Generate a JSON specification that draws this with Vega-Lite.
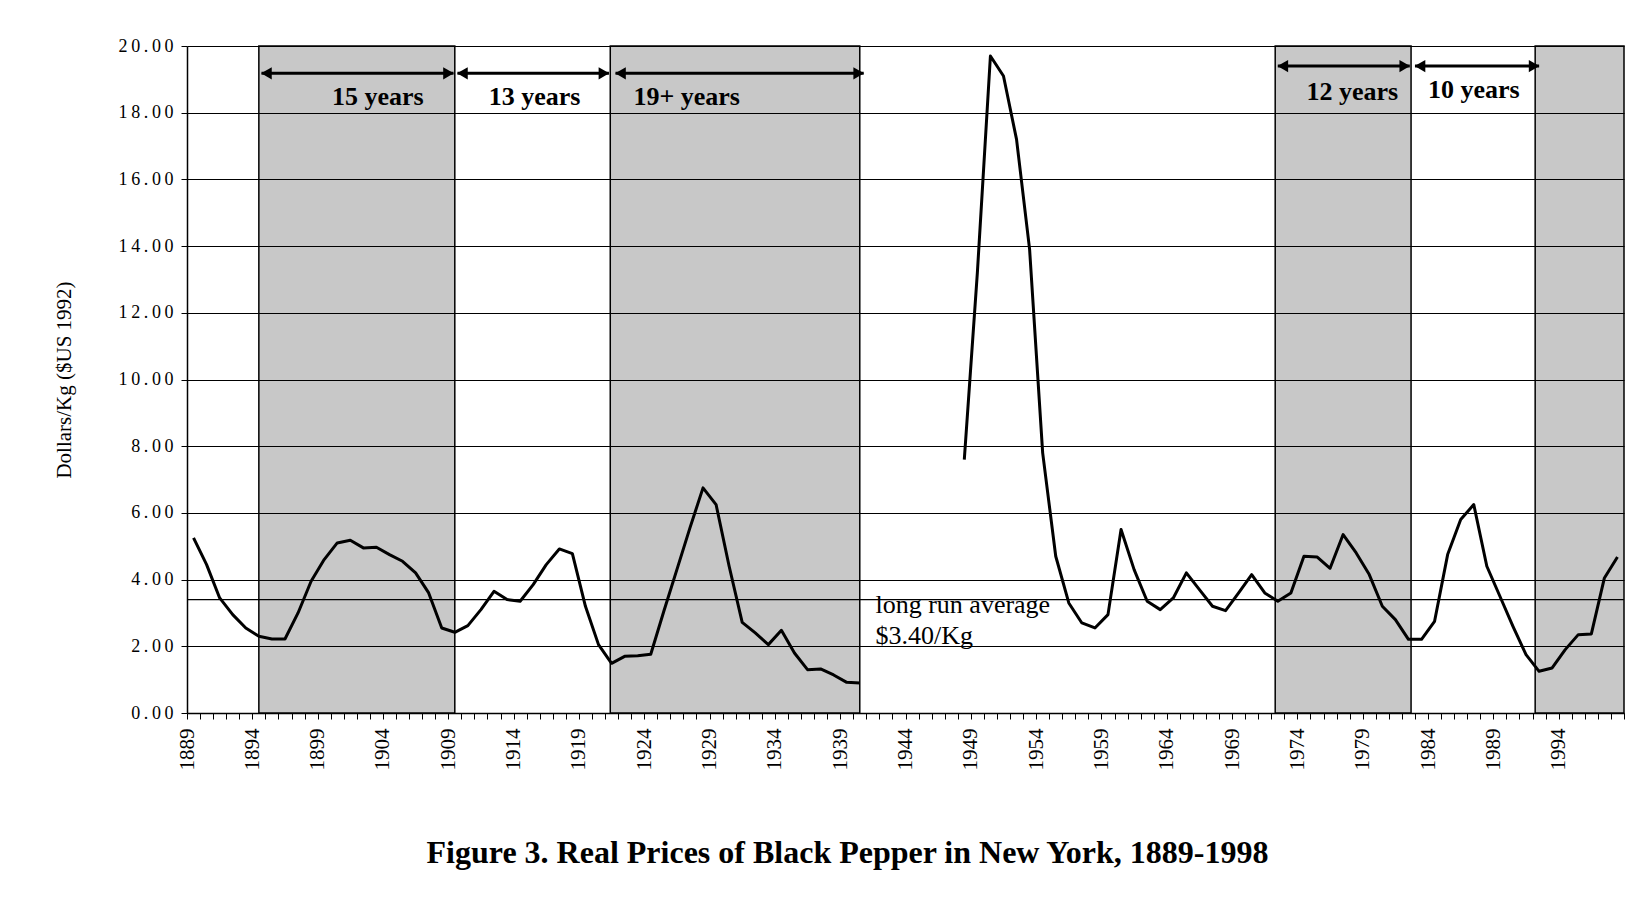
{
  "$schema": "https://vega.github.io/schema/vega-lite/v6.json",
  "width": 1437,
  "height": 667,
  "autosize": "none",
  "padding": {"left": 187, "top": 46, "right": 17, "bottom": 193},
  "background": "white",
  "config": {"view": {"stroke": null}, "font": "Liberation Serif"},
  "title": {
    "text": "Figure 3. Real Prices of Black Pepper in New York, 1889-1998",
    "orient": "bottom", "anchor": "middle", "frame": "group",
    "font": "Liberation Serif", "fontSize": 32, "fontWeight": "bold", "color": "black",
    "offset": 68, "dx": -58
  },
  "datasets": {
    "prices": [
      {"year": 1889, "price": 5.25, "seg": "a"}, {"year": 1890, "price": 4.45, "seg": "a"},
      {"year": 1891, "price": 3.45, "seg": "a"}, {"year": 1892, "price": 2.95, "seg": "a"},
      {"year": 1893, "price": 2.55, "seg": "a"}, {"year": 1894, "price": 2.3, "seg": "a"},
      {"year": 1895, "price": 2.22, "seg": "a"}, {"year": 1896, "price": 2.22, "seg": "a"},
      {"year": 1897, "price": 3.0, "seg": "a"}, {"year": 1898, "price": 3.95, "seg": "a"},
      {"year": 1899, "price": 4.6, "seg": "a"}, {"year": 1900, "price": 5.1, "seg": "a"},
      {"year": 1901, "price": 5.18, "seg": "a"}, {"year": 1902, "price": 4.95, "seg": "a"},
      {"year": 1903, "price": 4.97, "seg": "a"}, {"year": 1904, "price": 4.75, "seg": "a"},
      {"year": 1905, "price": 4.55, "seg": "a"}, {"year": 1906, "price": 4.2, "seg": "a"},
      {"year": 1907, "price": 3.6, "seg": "a"}, {"year": 1908, "price": 2.55, "seg": "a"},
      {"year": 1909, "price": 2.42, "seg": "a"}, {"year": 1910, "price": 2.62, "seg": "a"},
      {"year": 1911, "price": 3.1, "seg": "a"}, {"year": 1912, "price": 3.65, "seg": "a"},
      {"year": 1913, "price": 3.4, "seg": "a"}, {"year": 1914, "price": 3.35, "seg": "a"},
      {"year": 1915, "price": 3.85, "seg": "a"}, {"year": 1916, "price": 4.45, "seg": "a"},
      {"year": 1917, "price": 4.92, "seg": "a"}, {"year": 1918, "price": 4.78, "seg": "a"},
      {"year": 1919, "price": 3.2, "seg": "a"}, {"year": 1920, "price": 2.05, "seg": "a"},
      {"year": 1921, "price": 1.49, "seg": "a"}, {"year": 1922, "price": 1.7, "seg": "a"},
      {"year": 1923, "price": 1.72, "seg": "a"}, {"year": 1924, "price": 1.76, "seg": "a"},
      {"year": 1925, "price": 3.05, "seg": "a"}, {"year": 1926, "price": 4.3, "seg": "a"},
      {"year": 1927, "price": 5.55, "seg": "a"}, {"year": 1928, "price": 6.75, "seg": "a"},
      {"year": 1929, "price": 6.25, "seg": "a"}, {"year": 1930, "price": 4.4, "seg": "a"},
      {"year": 1931, "price": 2.72, "seg": "a"}, {"year": 1932, "price": 2.4, "seg": "a"},
      {"year": 1933, "price": 2.05, "seg": "a"}, {"year": 1934, "price": 2.48, "seg": "a"},
      {"year": 1935, "price": 1.8, "seg": "a"}, {"year": 1936, "price": 1.3, "seg": "a"},
      {"year": 1937, "price": 1.32, "seg": "a"}, {"year": 1938, "price": 1.14, "seg": "a"},
      {"year": 1939, "price": 0.92, "seg": "a"}, {"year": 1940, "price": 0.9, "seg": "a"},
      {"year": 1948, "price": 7.6, "seg": "b"}, {"year": 1949, "price": 13.2, "seg": "b"},
      {"year": 1950, "price": 19.7, "seg": "b"}, {"year": 1951, "price": 19.1, "seg": "b"},
      {"year": 1952, "price": 17.2, "seg": "b"}, {"year": 1953, "price": 13.9, "seg": "b"},
      {"year": 1954, "price": 7.8, "seg": "b"}, {"year": 1955, "price": 4.7, "seg": "b"},
      {"year": 1956, "price": 3.3, "seg": "b"}, {"year": 1957, "price": 2.7, "seg": "b"},
      {"year": 1958, "price": 2.55, "seg": "b"}, {"year": 1959, "price": 2.95, "seg": "b"},
      {"year": 1960, "price": 5.5, "seg": "b"}, {"year": 1961, "price": 4.3, "seg": "b"},
      {"year": 1962, "price": 3.35, "seg": "b"}, {"year": 1963, "price": 3.1, "seg": "b"},
      {"year": 1964, "price": 3.45, "seg": "b"}, {"year": 1965, "price": 4.2, "seg": "b"},
      {"year": 1966, "price": 3.7, "seg": "b"}, {"year": 1967, "price": 3.2, "seg": "b"},
      {"year": 1968, "price": 3.07, "seg": "b"}, {"year": 1969, "price": 3.6, "seg": "b"},
      {"year": 1970, "price": 4.15, "seg": "b"}, {"year": 1971, "price": 3.6, "seg": "b"},
      {"year": 1972, "price": 3.35, "seg": "b"}, {"year": 1973, "price": 3.6, "seg": "b"},
      {"year": 1974, "price": 4.7, "seg": "b"}, {"year": 1975, "price": 4.68, "seg": "b"},
      {"year": 1976, "price": 4.34, "seg": "b"}, {"year": 1977, "price": 5.35, "seg": "b"},
      {"year": 1978, "price": 4.8, "seg": "b"}, {"year": 1979, "price": 4.15, "seg": "b"},
      {"year": 1980, "price": 3.2, "seg": "b"}, {"year": 1981, "price": 2.8, "seg": "b"},
      {"year": 1982, "price": 2.21, "seg": "b"}, {"year": 1983, "price": 2.21, "seg": "b"},
      {"year": 1984, "price": 2.75, "seg": "b"}, {"year": 1985, "price": 4.75, "seg": "b"},
      {"year": 1986, "price": 5.8, "seg": "b"}, {"year": 1987, "price": 6.25, "seg": "b"},
      {"year": 1988, "price": 4.4, "seg": "b"}, {"year": 1989, "price": 3.5, "seg": "b"},
      {"year": 1990, "price": 2.6, "seg": "b"}, {"year": 1991, "price": 1.75, "seg": "b"},
      {"year": 1992, "price": 1.25, "seg": "b"}, {"year": 1993, "price": 1.35, "seg": "b"},
      {"year": 1994, "price": 1.9, "seg": "b"}, {"year": 1995, "price": 2.35, "seg": "b"},
      {"year": 1996, "price": 2.37, "seg": "b"}, {"year": 1997, "price": 4.05, "seg": "b"},
      {"year": 1998, "price": 4.68, "seg": "b"}
    ],
    "bands": [
      {"start": 1894.0, "end": 1909.0},
      {"start": 1920.9, "end": 1940.0},
      {"start": 1971.8, "end": 1982.2},
      {"start": 1991.7, "end": 1998.5}
    ],
    "arrows": [
      {"start": 1894.2, "end": 1908.9, "y": 19.18, "label": "15 years", "lx": 1903.1, "ly": 18.46},
      {"start": 1909.2, "end": 1920.8, "y": 19.18, "label": "13 years", "lx": 1915.1, "ly": 18.46},
      {"start": 1921.3, "end": 1940.3, "y": 19.18, "label": "19+ years", "lx": 1926.75, "ly": 18.46},
      {"start": 1972.0, "end": 1982.1, "y": 19.4, "label": "12 years", "lx": 1977.7, "ly": 18.62},
      {"start": 1982.5, "end": 1992.0, "y": 19.4, "label": "10 years", "lx": 1987.0, "ly": 18.68}
    ],
    "average": [{"avg": 3.4}],
    "notes": [
      {"label": "long run average", "x": 1941.2, "y": 3.24},
      {"label": "$3.40/Kg", "x": 1941.2, "y": 2.31}
    ]
  },
  "layer": [
    {
      "data": {"name": "prices"},
      "mark": {"type": "line", "color": "black", "strokeWidth": 2.6, "strokeJoin": "round", "opacity": 0},
      "encoding": {
        "x": {
          "field": "year", "type": "quantitative",
          "scale": {"domain": [1888.5, 1998.5], "nice": false, "zero": false},
          "axis": {
            "values": [1888.5,1889.5,1890.5,1891.5,1892.5,1893.5,1894.5,1895.5,1896.5,1897.5,1898.5,1899.5,1900.5,1901.5,1902.5,1903.5,1904.5,1905.5,1906.5,1907.5,1908.5,1909.5,1910.5,1911.5,1912.5,1913.5,1914.5,1915.5,1916.5,1917.5,1918.5,1919.5,1920.5,1921.5,1922.5,1923.5,1924.5,1925.5,1926.5,1927.5,1928.5,1929.5,1930.5,1931.5,1932.5,1933.5,1934.5,1935.5,1936.5,1937.5,1938.5,1939.5,1940.5,1941.5,1942.5,1943.5,1944.5,1945.5,1946.5,1947.5,1948.5,1949.5,1950.5,1951.5,1952.5,1953.5,1954.5,1955.5,1956.5,1957.5,1958.5,1959.5,1960.5,1961.5,1962.5,1963.5,1964.5,1965.5,1966.5,1967.5,1968.5,1969.5,1970.5,1971.5,1972.5,1973.5,1974.5,1975.5,1976.5,1977.5,1978.5,1979.5,1980.5,1981.5,1982.5,1983.5,1984.5,1985.5,1986.5,1987.5,1988.5,1989.5,1990.5,1991.5,1992.5,1993.5,1994.5,1995.5,1996.5,1997.5,1998.5],
            "tickCount": 500,
            "labelExpr": "((datum.value - 1888.5) % 5 == 0 && datum.value < 1998) ? format(datum.value + 0.5, 'd') : ''",
            "labelAngle": 270, "labelFont": "Liberation Serif", "labelFontSize": 21, "labelColor": "black",
            "labelPadding": 9, "labelOverlap": false, "labelBound": false, "labelFlush": false,
            "tickSize": 6, "tickColor": "black", "tickWidth": 1,
            "domainColor": "black", "domainWidth": 1.5, "grid": false, "title": null
          }
        },
        "y": {
          "field": "price", "type": "quantitative",
          "scale": {"domain": [0, 20], "nice": false},
          "axis": {
            "values": [0, 2, 4, 6, 8, 10, 12, 14, 16, 18, 20],
            "tickCount": 50,
            "labelExpr": "join(split(format(datum.value, '.2f'), ''), '\u2009')",
            "labelFont": "Liberation Serif", "labelFontSize": 18, "labelColor": "black", "labelPadding": 8,
            "grid": true, "gridColor": "black", "gridWidth": 1, "gridOpacity": 1,
            "tickSize": 6, "tickColor": "black", "domainColor": "black", "domainWidth": 1.5,
            "title": "Dollars/Kg ($US 1992)", "titleFont": "Liberation Serif", "titleFontSize": 21,
            "titleFontWeight": "normal", "titleColor": "black", "titlePadding": 44, "zindex": 1
          }
        },
        "detail": {"field": "seg"}
      }
    },
    {
      "data": {"name": "bands"},
      "mark": {"type": "rect", "fill": "#c8c8c8", "stroke": "black", "strokeWidth": 1.5},
      "encoding": {
        "x": {"field": "start", "type": "quantitative"},
        "x2": {"field": "end"},
        "y": {"datum": 0, "type": "quantitative"},
        "y2": {"datum": 20}
      }
    },
    {
      "data": {"name": "average"},
      "mark": {"type": "rule", "color": "black", "strokeWidth": 1.2},
      "encoding": {"y": {"field": "avg", "type": "quantitative"}}
    },
    {
      "data": {"name": "prices"},
      "mark": {"type": "line", "color": "black", "strokeWidth": 3, "strokeJoin": "round"},
      "encoding": {
        "x": {"field": "year", "type": "quantitative"},
        "y": {"field": "price", "type": "quantitative"},
        "detail": {"field": "seg"}
      }
    },
    {
      "data": {"name": "arrows"},
      "mark": {"type": "rule", "color": "black", "strokeWidth": 3},
      "encoding": {
        "x": {"field": "start", "type": "quantitative"},
        "x2": {"field": "end"},
        "y": {"field": "y", "type": "quantitative"}
      }
    },
    {
      "data": {"name": "arrows"},
      "mark": {"type": "point", "shape": "triangle-left", "filled": true, "color": "black", "size": 150, "opacity": 1, "xOffset": 5},
      "encoding": {
        "x": {"field": "start", "type": "quantitative"},
        "y": {"field": "y", "type": "quantitative"}
      }
    },
    {
      "data": {"name": "arrows"},
      "mark": {"type": "point", "shape": "triangle-right", "filled": true, "color": "black", "size": 150, "opacity": 1, "xOffset": -5},
      "encoding": {
        "x": {"field": "end", "type": "quantitative"},
        "y": {"field": "y", "type": "quantitative"}
      }
    },
    {
      "data": {"name": "arrows"},
      "mark": {"type": "text", "font": "Liberation Serif", "fontSize": 26, "fontWeight": "bold", "color": "black", "align": "center", "baseline": "middle"},
      "encoding": {
        "x": {"field": "lx", "type": "quantitative"},
        "y": {"field": "ly", "type": "quantitative"},
        "text": {"field": "label"}
      }
    },
    {
      "data": {"name": "notes"},
      "mark": {"type": "text", "font": "Liberation Serif", "fontSize": 26, "color": "black", "align": "left", "baseline": "middle"},
      "encoding": {
        "x": {"field": "x", "type": "quantitative"},
        "y": {"field": "y", "type": "quantitative"},
        "text": {"field": "label"}
      }
    }
  ]
}
